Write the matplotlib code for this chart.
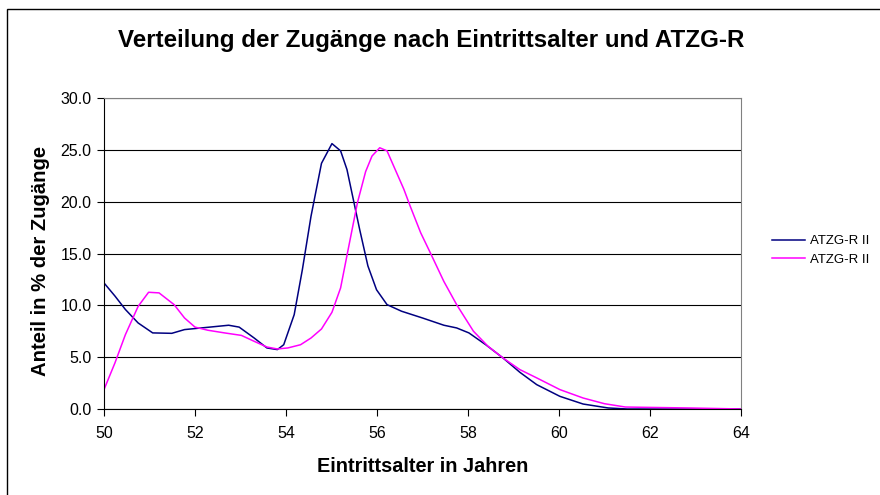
import matplotlib
matplotlib.use("Agg")
import matplotlib.pyplot as plt
from matplotlib.patches import Rectangle

plt.rcParams['font.family'] = ['Liberation Sans', 'DejaVu Sans']

age_a = [50.0, 50.24, 50.47, 50.75, 51.07, 51.49, 51.77, 52.28, 52.74, 52.97, 53.3, 53.58,
         53.81, 53.95, 54.18, 54.36, 54.55, 54.78, 55.01, 55.2, 55.34, 55.48, 55.62, 55.8,
         55.99, 56.22, 56.54, 57.0, 57.47, 57.75, 58.02, 58.39, 58.77, 59.14, 59.51, 60.02,
         60.53, 61.08, 61.5, 62.0, 63.0, 64.0]
share_a = [12.16, 10.9, 9.6, 8.3, 7.34, 7.3, 7.66, 7.88, 8.08, 7.9, 6.85, 5.89,
           5.73, 6.2, 9.1, 13.45, 18.6, 23.7, 25.6, 24.9, 23.1, 20.2, 17.3, 13.8,
           11.5, 10.07, 9.43, 8.78, 8.08, 7.82, 7.34, 6.2, 4.92, 3.54, 2.35, 1.22,
           0.48, 0.1, 0.0, 0.0, 0.0, 0.0]

age_b = [50.0, 50.24, 50.47, 50.75, 50.98, 51.21, 51.54, 51.77, 52.0, 52.28, 52.65, 53.02,
         53.3, 53.58, 53.81, 54.04, 54.32, 54.55, 54.78, 55.01, 55.2, 55.38, 55.57, 55.75,
         55.89, 56.06, 56.22, 56.4, 56.59, 56.73, 56.96, 57.19, 57.47, 57.75, 58.12, 58.44,
         58.77, 59.14, 59.51, 60.02, 60.53, 61.0, 61.46, 61.9, 62.84, 64.0]
share_b = [1.87, 4.44, 7.17, 9.9, 11.26, 11.2, 10.07, 8.78, 7.9, 7.6, 7.34, 7.1,
           6.53, 5.98, 5.79, 5.89, 6.2, 6.85, 7.72, 9.33, 11.68, 15.7, 19.9, 22.9,
           24.4, 25.2, 24.9, 23.1, 21.2, 19.56, 17.0, 14.9, 12.3, 10.07, 7.5, 6.05,
           4.92, 3.8, 3.0, 1.87, 1.06, 0.51, 0.19, 0.16, 0.1, 0.0]

series_labels = ["ATZG-R II", "ATZG-R II"]
x_ticks = [50, 52, 54, 56, 58, 60, 62, 64]
y_ticks = [0, 5, 10, 15, 20, 25, 30]

fig = plt.figure(figsize=(8.8, 4.95), dpi=100)
fig.patches.append(Rectangle((7/880, -0.1), 1.2, 1 - 9/495 + 0.1, transform=fig.transFigure,
                             fill=False, edgecolor='black', linewidth=1.0))
ax = fig.add_axes([104/880, 1 - 409/495, (741-104)/880, (409-98)/495])

ax.plot(age_a, share_a, color='#000080', linewidth=1.1, label=series_labels[0])
ax.plot(age_b, share_b, color='#FF00FF', linewidth=1.1, label=series_labels[1])

ax.set_xlim(50, 64)
ax.set_ylim(0, 30)
ax.set_xticks(x_ticks)
ax.set_xticklabels([str(t) for t in x_ticks])
ax.set_yticks(y_ticks)
ax.set_yticklabels([f"{t:.1f}" for t in y_ticks])
ax.tick_params(direction='out', length=5, width=0.8, colors='black', labelsize=11.5)
ax.tick_params(axis='x', pad=7)
ax.tick_params(axis='y', pad=4)
ax.yaxis.grid(True, color='black', linewidth=0.8)
ax.set_axisbelow(True)
for s in ['top', 'right']:
    ax.spines[s].set_color('#808080')
for s in ['left', 'bottom']:
    ax.spines[s].set_color('black')

fig.text(423/880, 1 - 466/495, "Eintrittsalter in Jahren", ha='center', va='center',
         fontsize=14.3, fontweight='bold')
fig.text(40/880, 1 - 261/495, "Anteil in % der Zugänge", ha='center', va='center',
         rotation=90, fontsize=14.6, fontweight='bold')
fig.text(431/880, 1 - 41/495, "Verteilung der Zugänge nach Eintrittsalter und ATZG-R",
         ha='center', va='center', fontsize=17.4, fontweight='bold')

ax.legend(loc='center left', bbox_to_anchor=(1.03, 0.51), frameon=False, fontsize=9.5,
          handlelength=2.5, handletextpad=0.4, labelspacing=0.45)

fig.savefig("out.png", dpi=100)
